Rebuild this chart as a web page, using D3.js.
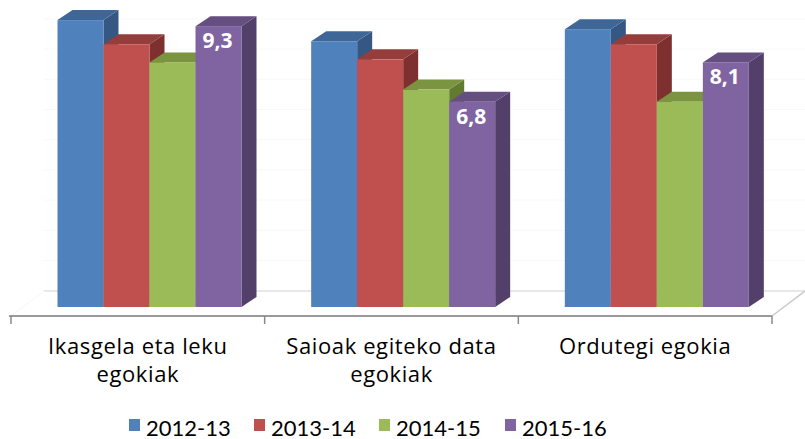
<!DOCTYPE html>
<html><head><meta charset="utf-8">
<script src="https://cdnjs.cloudflare.com/ajax/libs/d3/7.8.5/d3.min.js"></script>
<style>html,body{margin:0;padding:0;background:#fff;}svg{display:block;}</style>
</head><body>
<script>
const categories = [["Ikasgela eta leku","egokiak"],["Saioak egiteko data","egokiak"],["Ordutegi egokia"]];
const seriesNames = ["2012-13","2013-14","2014-15","2015-16"];
const s2012 = [9.5, 8.8, 9.2];
const s2013 = [8.7, 8.2, 8.7];
const s2014 = [8.1, 7.2, 6.8];
const s2015 = [9.3, 6.8, 8.1];
const labelled = [false,false,false,true];
const yTicks = [1,2,3,4,5,6,7,8,9];

const seriesValues = [s2012, s2013, s2014, s2015];
const colors = [
  {front:"#4F81BD", top:"#3E6797", side:"#345784"},
  {front:"#C0504D", top:"#953D3B", side:"#7D302F"},
  {front:"#9BBB59", top:"#7A9440", side:"#627A32"},
  {front:"#8064A2", top:"#654E80", side:"#523F6A"}
];
const W=805,H=439;
const svg=d3.select("body").append("svg").attr("width",W).attr("height",H);
const font="'Open Sans', Lato, sans-serif";
const legFont="Lato, 'Open Sans', sans-serif";

const catKeys = categories.map(c=>c.join(" "));
const x0 = d3.scaleBand().domain(catKeys).range([11,772]).paddingInner(0).paddingOuter(0);
const x1 = d3.scaleBand().domain(seriesNames).range([0,184]);
const y = d3.scaleLinear().domain([0,10]).range([307,5]);
const dx=15, dy=10;          // bar depth
const fdx=33, fdy=25;        // floor depth
const floorFront=316, floorBack=291;
const barOffset=46.5;

// back wall gridlines
svg.append("g").selectAll("line").data(yTicks).join("line")
  .attr("x1",11+fdx).attr("x2",772+fdx)
  .attr("y1",d=>y(d)-16.3).attr("y2",d=>y(d)-16.3)
  .attr("stroke","#f8f8f8").attr("stroke-width",1);
// back floor line
svg.append("line").attr("x1",11+fdx).attr("x2",772+fdx).attr("y1",floorBack).attr("y2",floorBack)
  .attr("stroke","#e0e0e0").attr("stroke-width",1.5);
// right floor diagonal
svg.append("line").attr("x1",772).attr("y1",floorFront).attr("x2",772+fdx).attr("y2",floorBack)
  .attr("stroke","#c8c8c8").attr("stroke-width",1.5);
// left floor diagonal (faint)
svg.append("line").attr("x1",11).attr("y1",floorFront).attr("x2",11+fdx).attr("y2",floorBack)
  .attr("stroke","#f6f6f6").attr("stroke-width",1);

// bars
const bars = svg.append("g");
catKeys.forEach((cat,ci)=>{
  seriesNames.forEach((s,si)=>{
    const v = seriesValues[si][ci];
    const xl = x0(cat)+barOffset+x1(s);
    const bw = x1.bandwidth();
    const yt = y(v), yb = y(0);
    const c = colors[si];
    const g = bars.append("g");
    g.append("path").attr("d",`M${xl+bw},${yt} L${xl+bw+dx},${yt-dy} L${xl+bw+dx},${yb-dy} L${xl+bw},${yb} Z`).attr("fill",c.side);
    g.append("path").attr("d",`M${xl},${yt} L${xl+dx},${yt-dy} L${xl+bw+dx},${yt-dy} L${xl+bw},${yt} Z`).attr("fill",c.top);
    g.append("rect").attr("x",xl).attr("y",yt).attr("width",bw).attr("height",yb-yt).attr("fill",c.front);
    if(labelled[si]){
      g.append("text").attr("x",xl+bw/2-1).attr("y",yt+22).attr("text-anchor","middle")
        .attr("font-family",font).attr("font-weight","bold").attr("font-size",21).attr("fill","#fff")
        .text(String(v).replace(".",","));
    }
  });
});

// front axis line and ticks
svg.append("line").attr("x1",9).attr("x2",772).attr("y1",floorFront).attr("y2",floorFront)
  .attr("stroke","#9a9a9a").attr("stroke-width",2);
const tickXs = catKeys.map(c=>x0(c)).concat([x0(catKeys[catKeys.length-1])+x0.bandwidth()]);
svg.append("g").selectAll("line").data(tickXs).join("line")
  .attr("x1",d=>d).attr("x2",d=>d).attr("y1",floorFront).attr("y2",324)
  .attr("stroke","#8a8a8a").attr("stroke-width",1.5);

// category labels
const lab = svg.append("g");
categories.forEach((lines,ci)=>{
  const cx = x0(catKeys[ci])+x0.bandwidth()/2;
  const t = lab.append("text").attr("text-anchor","middle").attr("font-family",font)
    .attr("font-size",22).attr("letter-spacing","0.6px").attr("fill","#000");
  lines.forEach((ln,li)=>{
    t.append("tspan").attr("x",cx).attr("y",354+li*28).text(ln);
  });
});

// legend
const legX = [129,254,379,505];
const leg = svg.append("g");
seriesNames.forEach((s,si)=>{
  leg.append("rect").attr("x",legX[si]).attr("y",419).attr("width",11).attr("height",12).attr("fill",colors[si].front);
  leg.append("text").attr("x",legX[si]+17).attr("y",435.5).attr("font-family",legFont)
    .attr("font-size",22).attr("fill","#000").text(s);
});
</script>
</body></html>
